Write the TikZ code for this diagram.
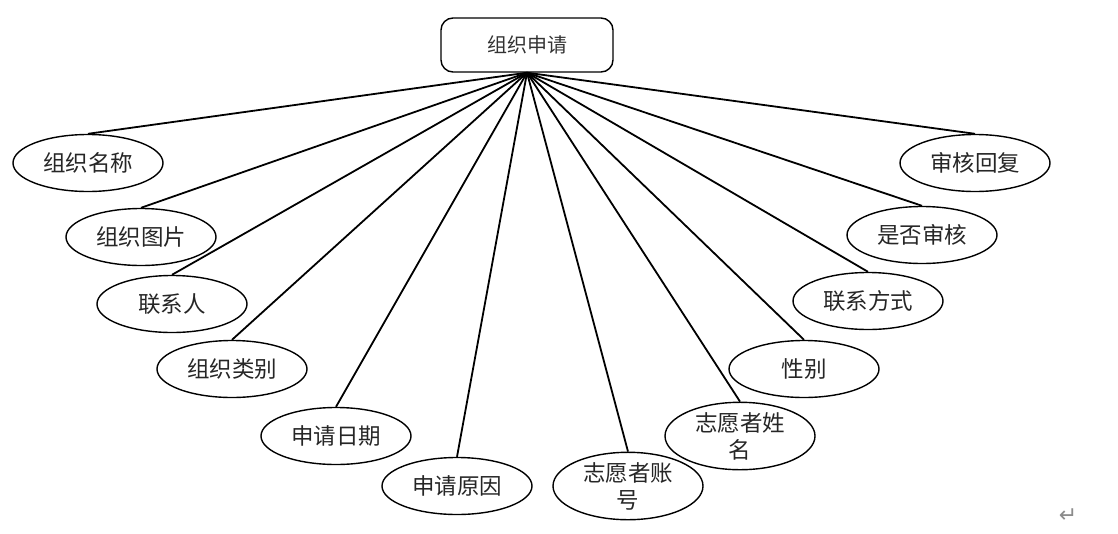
\documentclass[tikz,border=0pt]{standalone}
\usepackage{fontspec}
\newfontfamily\cjk{Noto Sans CJK SC}
\newfontfamily\symf{DejaVu Sans}
\usetikzlibrary{shapes.geometric}
\begin{document}
\begin{tikzpicture}[x=1pt,y=-1pt,
  attr/.style={draw=black,line width=1.4pt,ellipse,minimum width=150pt,minimum height=57pt,inner sep=0pt,
    font=\cjk\fontsize{22.5}{27}\selectfont,text=black!85,align=center},
  rootbox/.style={draw=black,line width=1.4pt,rounded corners=12pt,minimum width=172pt,minimum height=54pt,inner sep=0pt,
    font=\cjk\fontsize{20}{24}\selectfont,text=black!80},
  conn/.style={line width=1.8pt,black}]
\useasboundingbox (0,0) rectangle (1118,533);
\node[rootbox] (root) at (527,45) {组织申请};
\node[attr] (a1) at (88,163) {组织名称};
\node[attr] (a2) at (141,237) {组织图片};
\node[attr] (a3) at (172,304) {联系人};
\node[attr] (a4) at (232,369) {组织类别};
\node[attr] (a5) at (336,436) {申请日期};
\node[attr] (a6) at (457,486) {申请原因};
\node[attr] (a7) at (628,486) {志愿者账\\号};
\node[attr] (a8) at (740,436) {志愿者姓\\名};
\node[attr] (a9) at (804,369) {性别};
\node[attr] (a10) at (868,301) {联系方式};
\node[attr] (a11) at (922,235) {是否审核};
\node[attr] (a12) at (975,163) {审核回复};
\foreach \i in {1,...,12} \draw[conn] (root.south) -- (a\i.north);
\node[font=\symf\fontsize{22}{22}\selectfont,text=black!45] (pm) at (1068,516) {↵};
\end{tikzpicture}
\end{document}
